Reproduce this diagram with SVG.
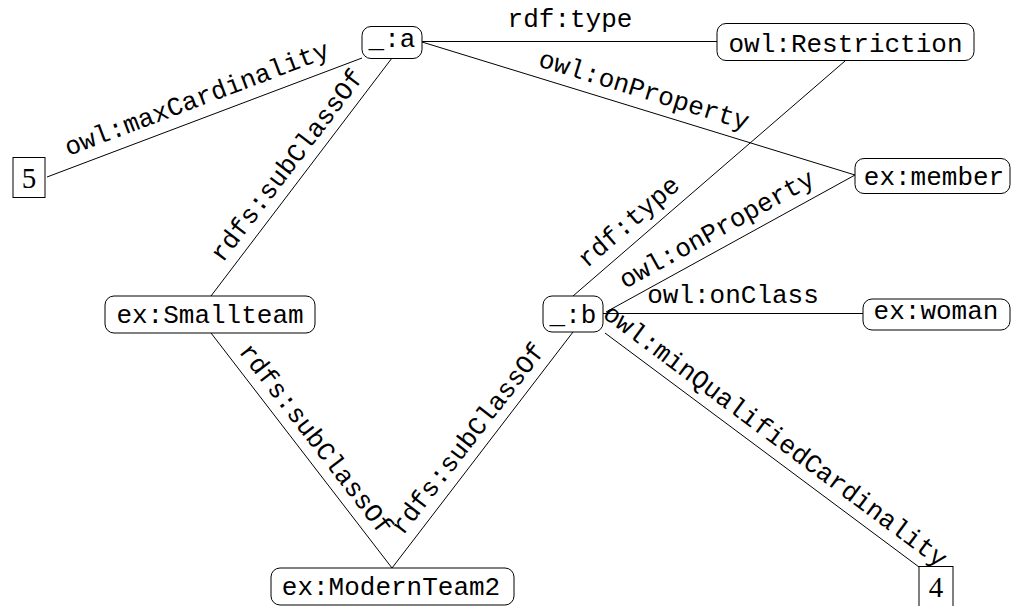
<svg xmlns="http://www.w3.org/2000/svg" width="1012" height="606" viewBox="0 0 1012 606">
<style>
.n rect{fill:#fff;stroke:#000;stroke-width:1}
.t{font-family:"Liberation Mono","Courier New",monospace;font-size:26px;fill:#000;text-anchor:middle}
.num{font-family:"Liberation Serif","Times New Roman",serif;font-size:29px;fill:#000;text-anchor:middle}
.e line{stroke:#000;stroke-width:1}
</style>
<rect width="1012" height="606" fill="#fff"/>
<g id="connectors" class="e">
<line x1="47" y1="177" x2="362" y2="58"/>
<line x1="211" y1="296" x2="392" y2="58"/>
<line x1="422" y1="41.5" x2="717" y2="41.5"/>
<line x1="422" y1="42" x2="855" y2="175"/>
<line x1="573" y1="296" x2="845" y2="61"/>
<line x1="606" y1="312" x2="855" y2="175"/>
<line x1="603" y1="313.5" x2="863" y2="313.5"/>
<line x1="605" y1="333" x2="919" y2="567"/>
<line x1="211" y1="333" x2="392" y2="568"/>
<line x1="573" y1="332" x2="392" y2="568"/>
<text class="t" transform="translate(199.7,106.3) rotate(-20.76)">owl:maxCardinality</text>
<text class="t" transform="translate(293.5,170.4) rotate(-52.63)">rdfs:subClassOf</text>
<text class="t" x="570" y="27">rdf:type</text>
<text class="t" transform="translate(641.7,98) rotate(17.07)">owl:onProperty</text>
<text class="t" transform="translate(634,228) rotate(-40.71)">rdf:type</text>
<text class="t" transform="translate(720.7,236.4) rotate(-28.82)">owl:onProperty</text>
<text class="t" x="733" y="303">owl:onClass</text>
<text class="t" transform="translate(770.4,442.4) rotate(36.69)">owl:minQualifiedCardinality</text>
<text class="t" transform="translate(309.5,444) rotate(52.28)">rdfs:subClassOf</text>
<text class="t" transform="translate(474.3,443.6) rotate(-52.28)">rdfs:subClassOf</text>
</g>
<g id="node-a" class="n"><rect x="362" y="26.5" width="60" height="32" rx="9"/><text class="t" x="392" y="47">_:a</text></g>
<g id="node-restriction" class="n"><rect x="717" y="23.5" width="257" height="37" rx="9"/><text class="t" x="845.5" y="52">owl:Restriction</text></g>
<g id="node-5" class="n"><rect x="13" y="157.5" width="32" height="40"/><text class="num" x="29" y="188">5</text></g>
<g id="node-member" class="n"><rect x="855" y="158.5" width="155" height="35" rx="9"/><text class="t" x="934" y="185">ex:member</text></g>
<g id="node-smallteam" class="n"><rect x="105" y="296" width="210" height="37" rx="9"/><text class="t" x="210" y="323">ex:Smallteam</text></g>
<g id="node-b" class="n"><rect x="543" y="296" width="60" height="36" rx="9"/><text class="t" x="573" y="323">_:b</text></g>
<g id="node-woman" class="n"><rect x="863" y="299" width="147" height="31" rx="9"/><text class="t" x="936" y="319">ex:woman</text></g>
<g id="node-modernteam2" class="n"><rect x="271" y="568" width="243" height="37" rx="9"/><text class="t" x="391" y="595">ex:ModernTeam2</text></g>
<g id="node-4" class="n"><rect x="919" y="566.5" width="34" height="40"/><text class="num" x="936" y="597">4</text></g>
</svg>
